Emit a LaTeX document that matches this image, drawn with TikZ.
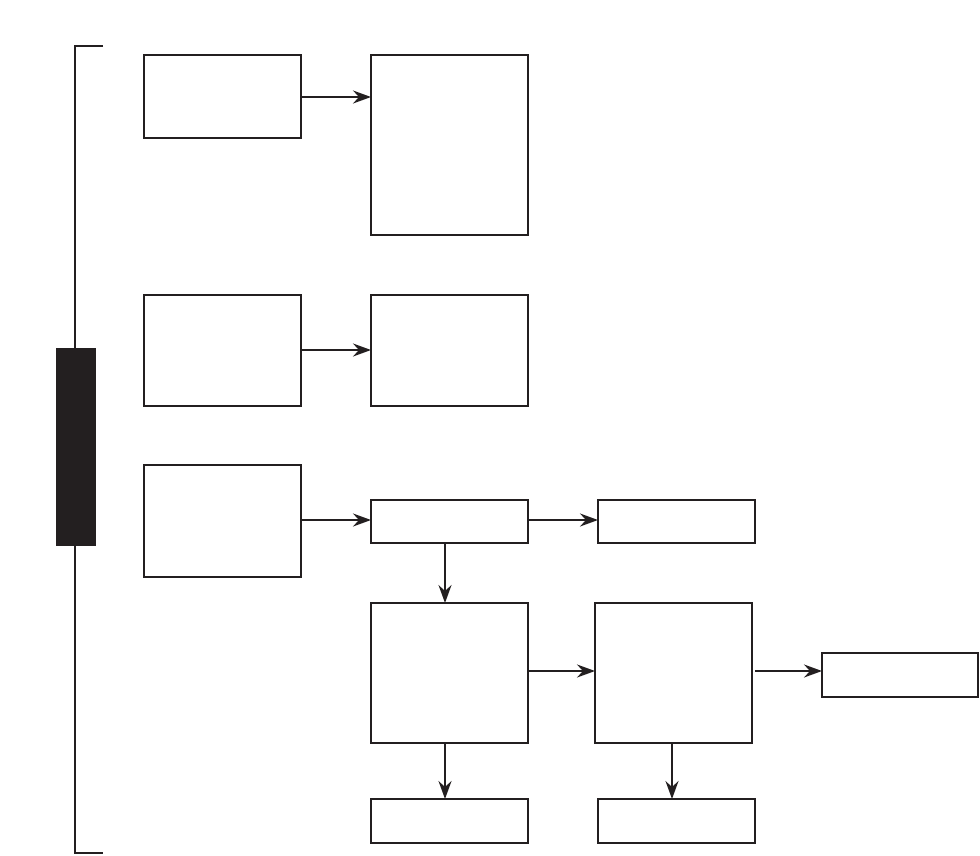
\documentclass[tikz,border=0pt]{standalone}
\usetikzlibrary{arrows.meta}
\definecolor{ink}{HTML}{231F20}
\begin{document}
\begin{tikzpicture}[x=1pt,y=-1pt,
  box/.style={draw=ink, line width=2pt, anchor=north west, inner sep=0pt, outer sep=0pt},
  conn/.style={draw=ink, line width=2pt, -{Stealth[length=18pt,width=13pt,inset=6pt]}},
  brk/.style={draw=ink, line width=2pt}]
\useasboundingbox (0,0) rectangle (980,855);
% bracket
\draw[brk] (103,46) -- (75,46) -- (75,853) -- (103,853);
\fill[ink] (56,348) rectangle (96,546);
% boxes
\node[box, minimum width=157pt, minimum height=83pt] (a1) at (144,55) {};
\node[box, minimum width=157pt, minimum height=180pt] (b1) at (371,55) {};
\node[box, minimum width=157pt, minimum height=111pt] (a2) at (144,295) {};
\node[box, minimum width=157pt, minimum height=111pt] (b2) at (371,295) {};
\node[box, minimum width=157pt, minimum height=112pt] (a3) at (144,465) {};
\node[box, minimum width=157pt, minimum height=43pt] (c) at (371,500) {};
\node[box, minimum width=157pt, minimum height=43pt] (d) at (598,500) {};
\node[box, minimum width=157pt, minimum height=140pt] (e) at (371,603) {};
\node[box, minimum width=157pt, minimum height=140pt] (f) at (595,603) {};
\node[box, minimum width=156pt, minimum height=44pt] (g) at (822,653) {};
\node[box, minimum width=157pt, minimum height=44pt] (h) at (371,799) {};
\node[box, minimum width=157pt, minimum height=44pt] (i) at (598,799) {};
% connectors
\draw[conn] (a1.east |- 0,97) -- (b1.west |- 0,97);
\draw[conn] (a2.east |- 0,350) -- (b2.west |- 0,350);
\draw[conn] (a3.east |- 0,520) -- (c.west |- 0,520);
\draw[conn] (c.east |- 0,520) -- (d.west |- 0,520);
\draw[conn] ([xshift=-4.5pt]c.south) -- ([xshift=-4.5pt]e.north);
\draw[conn] (e.east |- 0,671) -- (f.west |- 0,671);
\draw[conn] ([xshift=3pt]f.east |- 0,671) -- (g.west |- 0,671);
\draw[conn] ([xshift=-4.5pt]e.south) -- ([xshift=-4.5pt]h.north);
\draw[conn] ([xshift=-1.5pt]f.south) -- ([xshift=-4.5pt]i.north);
\end{tikzpicture}
\end{document}
